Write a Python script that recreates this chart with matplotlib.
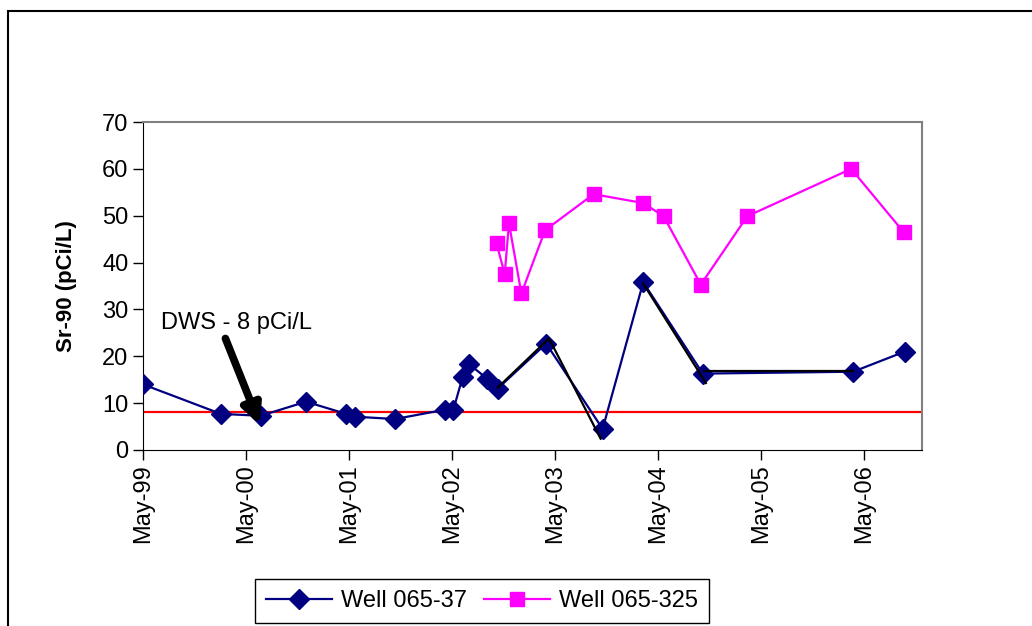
import numpy as np
import pandas as pd
import matplotlib
matplotlib.use("Agg")
import matplotlib.pyplot as plt
import matplotlib.dates as mdates
from matplotlib.patches import Rectangle

plt.rcParams['font.family'] = ['Liberation Sans', 'DejaVu Sans']

# Well 065-37 (navy diamonds)
dates_37 = ['1999-05-01', '2000-02-01', '2000-06-21', '2000-11-29', '2001-04-20',
            '2001-05-23', '2001-10-10', '2002-04-05', '2002-05-05', '2002-06-07',
            '2002-06-28', '2002-09-02', '2002-10-09', '2003-03-30', '2003-10-16',
            '2004-03-08', '2004-10-05', '2006-03-22', '2006-09-21']
sr_37 = [14.0, 7.7, 7.3, 10.3, 7.7, 7.1, 6.6, 8.6, 8.6, 15.6,
         18.4, 15.2, 13.1, 22.7, 4.5, 35.8, 16.3, 16.7, 21.0]

# Well 065-325 (magenta squares)
dates_325 = ['2002-10-05', '2002-11-03', '2002-11-18', '2003-01-01', '2003-03-26',
             '2003-09-14', '2004-03-08', '2004-05-19', '2004-09-28', '2005-03-12',
             '2006-03-15', '2006-09-17']
sr_325 = [44.1, 37.5, 48.4, 33.4, 46.9, 54.6, 52.7, 49.9, 35.3, 49.9, 60.0, 46.5]

dws = 8

# hand drawn black lines on top of the chart
drawn_lines = [
    (['2002-10-09', '2003-04-09', '2003-10-09'], [13.3, 23.8, 2.4]),
    (['2004-03-08', '2004-10-16'], [35.5, 14.3]),
    (['2004-10-09', '2006-03-22'], [16.9, 16.9]),
]

tick_years = ['1999-05-01', '2000-05-01', '2001-05-01', '2002-05-01',
              '2003-05-01', '2004-05-01', '2005-05-01', '2006-05-01']

fs = 17

fig = plt.figure(figsize=(10.32, 6.26), dpi=100)
ax = fig.add_axes([0.1386, 0.2812, 0.7548, 0.5239])

ax.axhline(dws, color='red', lw=1.6, zorder=2)

ax.plot(pd.to_datetime(dates_37), sr_37, color='#000080', lw=1.6,
        marker='D', markersize=10, label='Well 065-37', zorder=3)
ax.plot(pd.to_datetime(dates_325), sr_325, color='#ff00ff', lw=1.6,
        marker='s', markersize=9.5, label='Well 065-325', zorder=3)

for d, v in drawn_lines:
    ax.plot(pd.to_datetime(d), v, color='black', lw=1.6, zorder=4)

ax.text(pd.Timestamp('1999-07-04'), 27.2, 'DWS - 8 pCi/L', fontsize=fs,
        va='center', ha='left')
ax.annotate('', xy=(pd.Timestamp('2000-06-18'), 5.4),
            xytext=(pd.Timestamp('2000-02-17'), 23.8),
            arrowprops=dict(arrowstyle='-|>', lw=5.5, color='black',
                            mutation_scale=28, shrinkA=0, shrinkB=0),
            zorder=5)

ax.set_ylim(0, 70)
ax.set_yticks(np.arange(0, 71, 10))
ax.set_xlim(pd.Timestamp('1999-05-01'), pd.Timestamp('2006-11-21'))
ax.set_xticks(pd.to_datetime(tick_years))
ax.xaxis.set_major_formatter(mdates.DateFormatter('%b-%y'))
plt.setp(ax.get_xticklabels(), rotation=90)

ax.tick_params(axis='both', direction='out', length=7, width=1, labelsize=fs)
ax.set_ylabel('Sr-90 (pCi/L)', fontsize=16, fontweight='bold', labelpad=18)

for s in ['top', 'right']:
    ax.spines[s].set_color('#808080')
    ax.spines[s].set_linewidth(1.5)
for s in ['left', 'bottom']:
    ax.spines[s].set_color('black')

leg = fig.legend(loc='center', bbox_to_anchor=(0.467, 0.04), ncol=2,
                 fontsize=fs, frameon=True, fancybox=False, edgecolor='black',
                 framealpha=1, handlelength=2.8, columnspacing=0.7,
                 handletextpad=0.4, borderpad=0.45)
leg.get_frame().set_linewidth(1)

# outer chart border (clipped on the right and bottom)
fig.patches.append(Rectangle((8 / 1032, -0.1), 1.2, 1.1 - 11 / 626,
                             transform=fig.transFigure, fill=False,
                             edgecolor='black', lw=1.5))

fig.savefig('out.png', dpi=100)
